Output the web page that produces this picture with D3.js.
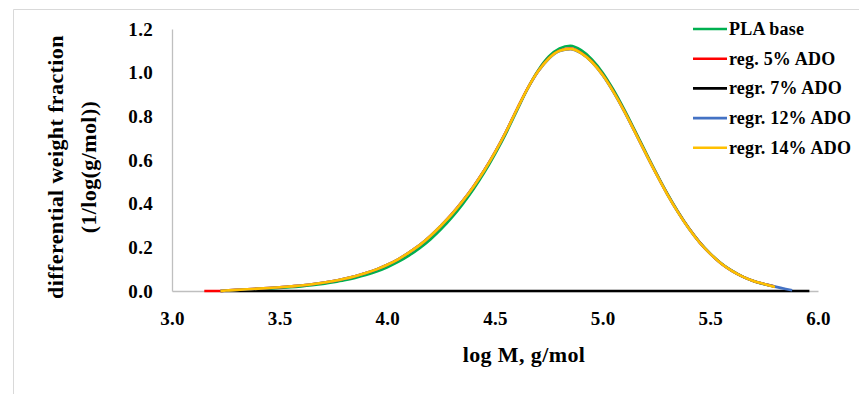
<!DOCTYPE html>
<html lang="en">
<head>
<meta charset="utf-8">
<title>Differential weight fraction</title>
<script src="https://cdn.jsdelivr.net/npm/d3@7/dist/d3.min.js"></script>
<style>
  body { margin: 0; background: #ffffff; }
  .tick_lbl { font-family: "Liberation Serif", "Times New Roman", serif; font-size: 19px; font-weight: bold; fill: #000; letter-spacing: 0.3px; }
  .ax_title { font-family: "Liberation Serif", "Times New Roman", serif; font-size: 22px; font-weight: bold; fill: #000; letter-spacing: 0.4px; }
  .leg_lbl { font-family: "Liberation Serif", "Times New Roman", serif; font-size: 18px; font-weight: bold; fill: #000; letter-spacing: 0.2px; }
</style>
</head>
<body>
<div id="container"></div>
<script type="text/javascript">
// ---------------- DATA ----------------
var logM = [3.15, 3.20, 3.225, 3.25, 3.30, 3.35, 3.40, 3.45, 3.50, 3.55, 3.60, 3.65, 3.70, 3.75, 3.80,
            3.85, 3.90, 3.95, 4.00, 4.05, 4.10, 4.15, 4.20, 4.25, 4.30, 4.35, 4.40, 4.45, 4.50,
            4.55, 4.60, 4.65, 4.70, 4.75, 4.80, 4.85, 4.90, 4.95, 5.00, 5.05, 5.10, 5.15, 5.20,
            5.25, 5.30, 5.35, 5.40, 5.45, 5.50, 5.55, 5.60, 5.65, 5.70, 5.75, 5.80, 5.85, 5.88,
            5.90, 5.96];

var plaBase = [null, null, null, 0.001, 0.003, 0.005, 0.008, 0.011, 0.014, 0.017, 0.021, 0.026, 0.032, 0.040, 0.049,
               0.060, 0.073, 0.089, 0.109, 0.133, 0.162, 0.196, 0.236, 0.283, 0.337, 0.398, 0.466, 0.542, 0.627,
               0.720, 0.822, 0.924, 1.010, 1.074, 1.111, 1.123, 1.103, 1.061, 1.000, 0.922, 0.832, 0.735, 0.636,
               0.539, 0.447, 0.363, 0.288, 0.224, 0.171, 0.127, 0.093, 0.066, 0.046, 0.031, 0.020, null, null,
               null, null];

var reg5 = [0.000, 0.000, 0.000, 0.002, 0.005, 0.008, 0.011, 0.014, 0.017, 0.021, 0.025, 0.031, 0.038, 0.046, 0.056,
            0.068, 0.082, 0.099, 0.120, 0.145, 0.176, 0.210, 0.252, 0.300, 0.353, 0.413, 0.479, 0.553, 0.636,
            0.728, 0.829, 0.926, 1.007, 1.066, 1.101, 1.110, 1.091, 1.050, 0.990, 0.913, 0.825, 0.729, 0.631,
            0.535, 0.444, 0.361, 0.287, 0.223, 0.170, 0.126, 0.092, 0.066, 0.046, 0.032, 0.020, null, null,
            null, null];

var regr7 = [null, null, 0.000, 0.000, 0.000, 0.000, 0.000, 0.000, 0.000, 0.000, 0.000, 0.000, 0.000, 0.000, 0.000,
             0.000, 0.000, 0.000, 0.000, 0.000, 0.000, 0.000, 0.000, 0.000, 0.000, 0.000, 0.000, 0.000, 0.000,
             0.000, 0.000, 0.000, 0.000, 0.000, 0.000, 0.000, 0.000, 0.000, 0.000, 0.000, 0.000, 0.000, 0.000,
             0.000, 0.000, 0.000, 0.000, 0.000, 0.000, 0.000, 0.000, 0.000, 0.000, 0.000, 0.000, 0.000, 0.000,
             0.000, 0.000];

var regr12 = [null, null, 0.000, 0.002, 0.005, 0.008, 0.011, 0.014, 0.017, 0.021, 0.025, 0.031, 0.038, 0.046, 0.056,
              0.068, 0.082, 0.099, 0.120, 0.145, 0.176, 0.210, 0.252, 0.300, 0.352, 0.412, 0.478, 0.552, 0.635,
              0.727, 0.827, 0.924, 1.005, 1.064, 1.099, 1.108, 1.089, 1.048, 0.988, 0.911, 0.823, 0.727, 0.629,
              0.534, 0.443, 0.360, 0.286, 0.222, 0.170, 0.126, 0.092, 0.066, 0.046, 0.032, 0.020, 0.009, 0.003,
              null, null];

var regr14 = [null, null, 0.000, 0.002, 0.005, 0.008, 0.011, 0.014, 0.017, 0.021, 0.025, 0.031, 0.038, 0.046, 0.056,
              0.068, 0.082, 0.099, 0.120, 0.145, 0.176, 0.210, 0.252, 0.300, 0.352, 0.412, 0.478, 0.552, 0.635,
              0.727, 0.828, 0.925, 1.006, 1.065, 1.100, 1.109, 1.090, 1.049, 0.989, 0.912, 0.824, 0.728, 0.630,
              0.534, 0.443, 0.360, 0.286, 0.222, 0.170, 0.126, 0.092, 0.066, 0.046, 0.032, 0.018, null, null,
              null, null];

var seriesNames = ['PLA base', 'reg. 5% ADO', 'regr. 7% ADO', 'regr. 12% ADO', 'regr. 14% ADO'];
var seriesVals = [plaBase, reg5, regr7, regr12, regr14];
var seriesColors = ['#00b050', '#ff0000', '#000000', '#4472c4', '#ffc000'];

var xTicks = [3.0, 3.5, 4.0, 4.5, 5.0, 5.5, 6.0];
var yTicks = [0.0, 0.2, 0.4, 0.6, 0.8, 1.0, 1.2];

// ---------------- LAYOUT ----------------
var width = 859;
var height = 394;
var margin = {top: 29, right: 41, bottom: 103, left: 172};
var plotW = width - margin.left - margin.right;
var plotH = height - margin.top - margin.bottom;

var svg = d3.select("#container").append("svg")
            .attr("width", width)
            .attr("height", height);

// outer frame (only top and left edges fall inside the picture)
svg.append("path")
   .attr("d", "M13.5,400 L13.5,9.5 L870,9.5")
   .attr("fill", "none")
   .attr("stroke", "#d9d9d9")
   .attr("stroke-width", 1);

var x = d3.scaleLinear().domain([3.0, 6.0]).range([margin.left, margin.left + plotW]);
var y = d3.scaleLinear().domain([0, 1.2]).range([margin.top + plotH, margin.top]);

// ---------------- AXES ----------------
var xAxis = svg.append("g")
   .attr("transform", "translate(0," + y(0) + ")")
   .call(d3.axisBottom(x).tickValues(xTicks).tickSize(0).tickPadding(21).tickFormat(d3.format(".1f")));
xAxis.select(".domain").attr("stroke", "#bfbfbf").attr("stroke-width", 1.3);
xAxis.selectAll("text").attr("class", "tick_lbl").attr("fill", null).attr("font-family", null).attr("font-size", null);

var yAxis = svg.append("g")
   .attr("transform", "translate(" + x(3.0) + ",0)")
   .call(d3.axisLeft(y).tickValues(yTicks).tickSize(0).tickPadding(19).tickFormat(d3.format(".1f")));
yAxis.select(".domain").attr("stroke", "#bfbfbf").attr("stroke-width", 1.3);
yAxis.selectAll("text").attr("class", "tick_lbl").attr("fill", null).attr("font-family", null).attr("font-size", null);

// ---------------- CURVES ----------------
seriesVals.forEach(function(vals, i) {
  var pts = logM.map(function(m, j) { return [m, vals[j]]; });
  var line = d3.line()
               .defined(function(d) { return d[1] !== null; })
               .x(function(d) { return x(d[0]); })
               .y(function(d) { return y(d[1]); })
               .curve(d3.curveMonotoneX);
  svg.append("path")
     .datum(pts)
     .attr("d", line)
     .attr("fill", "none")
     .attr("stroke", seriesColors[i])
     .attr("stroke-width", 2.6)
     .attr("stroke-linejoin", "round");
});

// ---------------- TITLES ----------------
svg.append("text")
   .attr("class", "ax_title")
   .attr("text-anchor", "middle")
   .attr("x", 524)
   .attr("y", 362)
   .text("log M, g/mol");

svg.append("text")
   .attr("class", "ax_title")
   .attr("text-anchor", "middle")
   .attr("transform", "translate(" + 63 + "," + 167 + ") rotate(-90)")
   .text("differential weight fraction");

svg.append("text")
   .attr("class", "ax_title")
   .attr("text-anchor", "middle")
   .attr("transform", "translate(" + 96 + "," + 167 + ") rotate(-90)")
   .text("(1/log(g/mol))");

// ---------------- LEGEND ----------------
var legend = svg.append("g").attr("transform", "translate(693,29)");
seriesNames.forEach(function(name, i) {
  var g = legend.append("g").attr("transform", "translate(0," + (i * 29.7) + ")");
  g.append("line")
   .attr("x1", 0).attr("x2", 34)
   .attr("y1", 0).attr("y2", 0)
   .attr("stroke", seriesColors[i])
   .attr("stroke-width", 2.6);
  g.append("text")
   .attr("class", "leg_lbl")
   .attr("x", 36)
   .attr("y", 6)
   .text(name);
});
</script>
</body>
</html>
